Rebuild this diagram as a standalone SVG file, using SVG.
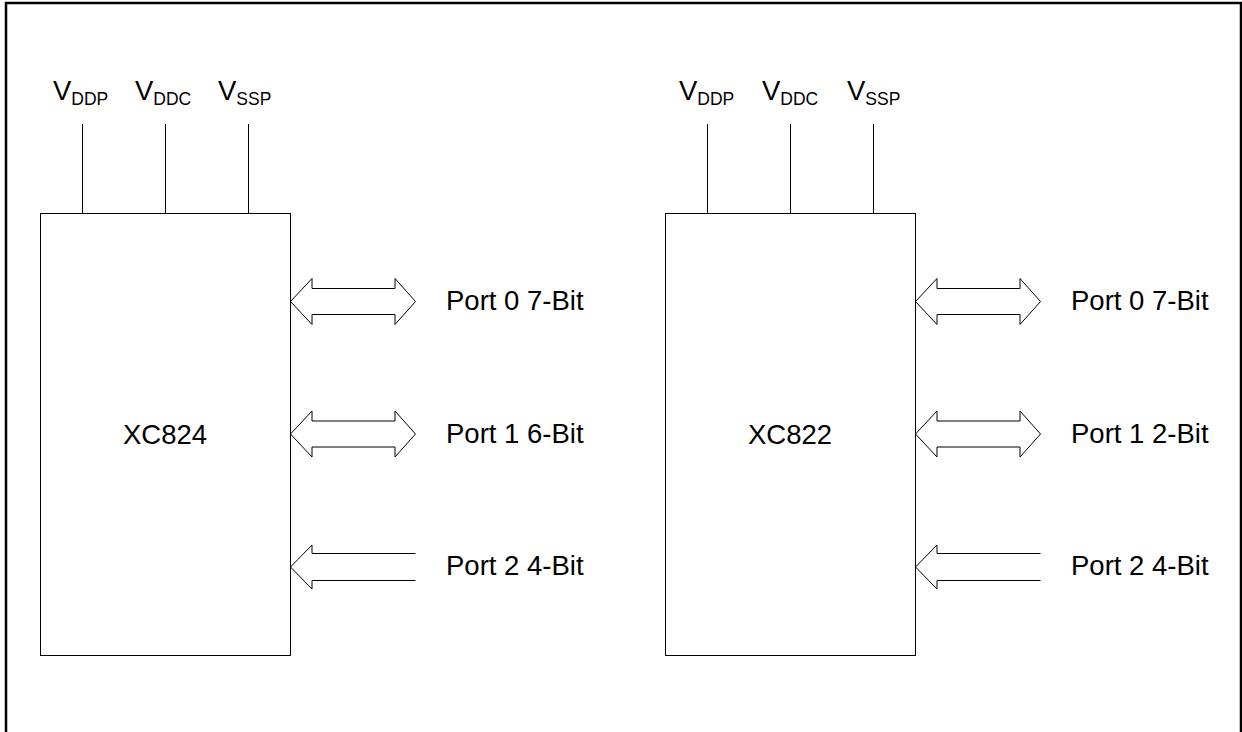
<svg xmlns="http://www.w3.org/2000/svg" xmlns:xlink="http://www.w3.org/1999/xlink" width="1242" height="732" viewBox="0 0 1242 732">
<style>
.ln{stroke:#000;stroke-width:1;fill:none}
.box{stroke:#000;stroke-width:1;fill:#fff}
.t{font-family:"Liberation Sans",Arial,sans-serif;font-size:27.5px;fill:#000}
.s{font-size:17.5px}
</style>
<defs>
<path id="dbl" d="M0,0 L21.5,-23 L21.5,-13 L104.5,-13 L104.5,-23 L125,0 L104.5,23 L104.5,13 L21.5,13 L21.5,23 Z" fill="#fff" stroke="#000" stroke-width="1"/>
<path id="sgl" d="M125,-13.5 L21.5,-13.5 L21.5,-22 L0,0 L21.5,22 L21.5,13.5 L125,13.5" fill="none" stroke="#000" stroke-width="1"/>
</defs>
<rect x="6" y="3" width="1235" height="740" fill="#fff" stroke="#000" stroke-width="2.5"/>
<g id="connectors">
<line class="ln" x1="82.5" y1="124" x2="82.5" y2="213"/>
<line class="ln" x1="165.5" y1="124" x2="165.5" y2="213"/>
<line class="ln" x1="248.5" y1="124" x2="248.5" y2="213"/>
<line class="ln" x1="707.5" y1="124" x2="707.5" y2="213"/>
<line class="ln" x1="790.5" y1="124" x2="790.5" y2="213"/>
<line class="ln" x1="873.5" y1="124" x2="873.5" y2="213"/>
<use xlink:href="#dbl" x="290.5" y="301.5"/>
<use xlink:href="#dbl" x="290.5" y="434"/>
<use xlink:href="#sgl" x="290.5" y="567"/>
<use xlink:href="#dbl" x="915.5" y="301.5"/>
<use xlink:href="#dbl" x="915.5" y="434"/>
<use xlink:href="#sgl" x="915.5" y="567"/>
</g>
<g id="xc824">
<rect class="box" x="40.5" y="213.5" width="250" height="442"/>
<text class="t" x="165" y="444" text-anchor="middle">XC824</text>
</g>
<g id="xc822">
<rect class="box" x="665.5" y="213.5" width="250" height="442"/>
<text class="t" x="790" y="444" text-anchor="middle">XC822</text>
</g>
<g id="labels1">
<text class="t" x="53" y="100">V<tspan class="s" dy="5">DDP</tspan></text>
<text class="t" x="135" y="100">V<tspan class="s" dy="5">DDC</tspan></text>
<text class="t" x="218" y="100">V<tspan class="s" dy="5">SSP</tspan></text>
<text class="t" x="446" y="310">Port 0 7-Bit</text>
<text class="t" x="446" y="443">Port 1 6-Bit</text>
<text class="t" x="446" y="575">Port 2 4-Bit</text>
</g>
<g id="labels2">
<text class="t" x="679" y="100">V<tspan class="s" dy="5">DDP</tspan></text>
<text class="t" x="762" y="100">V<tspan class="s" dy="5">DDC</tspan></text>
<text class="t" x="847" y="100">V<tspan class="s" dy="5">SSP</tspan></text>
<text class="t" x="1071" y="310">Port 0 7-Bit</text>
<text class="t" x="1071" y="443">Port 1 2-Bit</text>
<text class="t" x="1071" y="575">Port 2 4-Bit</text>
</g>
</svg>
